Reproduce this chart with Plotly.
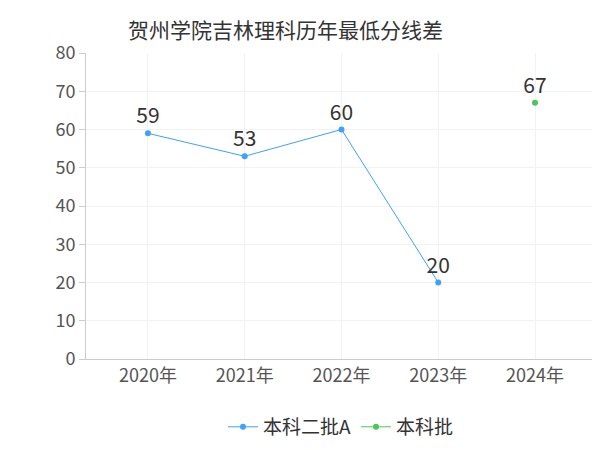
import plotly.graph_objects as go

years = ['2020年', '2021年', '2022年', '2023年', '2024年']
batch2a = [59, 53, 60, 20, None]
batch1 = [None, None, None, None, 67]

fig = go.Figure()
fig.add_trace(go.Scatter(
    x=years, y=batch2a, name='本科二批A', mode='lines+markers+text',
    text=[str(v) if v is not None else '' for v in batch2a],
    textposition='top center', textfont=dict(size=21, color='#333'),
    line=dict(color='#3fa0ff', width=1), marker=dict(size=6, color='#3fa0ff'),
))
fig.add_trace(go.Scatter(
    x=years, y=batch1, name='本科批', mode='lines+markers+text',
    text=[str(v) if v is not None else '' for v in batch1],
    textposition='top center', textfont=dict(size=21, color='#333'),
    line=dict(color='#4cc65a', width=1), marker=dict(size=6, color='#4cc65a'),
))

fig.update_layout(
    width=600, height=450,
    font=dict(family='Noto Sans CJK SC', color='#555'),
    title=dict(text='贺州学院吉林理科历年最低分线差', x=0.2, y=0.965,
               font=dict(size=21, color='#333')),
    plot_bgcolor='white', paper_bgcolor='white',
    margin=dict(l=78, r=12, t=45, b=82),
    showlegend=True,
    legend=dict(orientation='h', x=0.5, xanchor='center', y=-0.16,
                itemwidth=30, tracegroupgap=0,
                font=dict(size=19, color='#333')),
    xaxis=dict(showgrid=True, gridcolor='#f2f2f2', showline=True,
               linecolor='#ccc', tickfont=dict(size=18), ticks='',
               range=[-0.64, 4.63]),
    yaxis=dict(range=[0, 80], dtick=10, showgrid=True, gridcolor='#f2f2f2',
               showline=True, linecolor='#ccc', ticks='outside',
               ticklen=6, tickcolor='#ccc', tickfont=dict(size=18),
               zeroline=False),
)

fig.write_html('out.html')
